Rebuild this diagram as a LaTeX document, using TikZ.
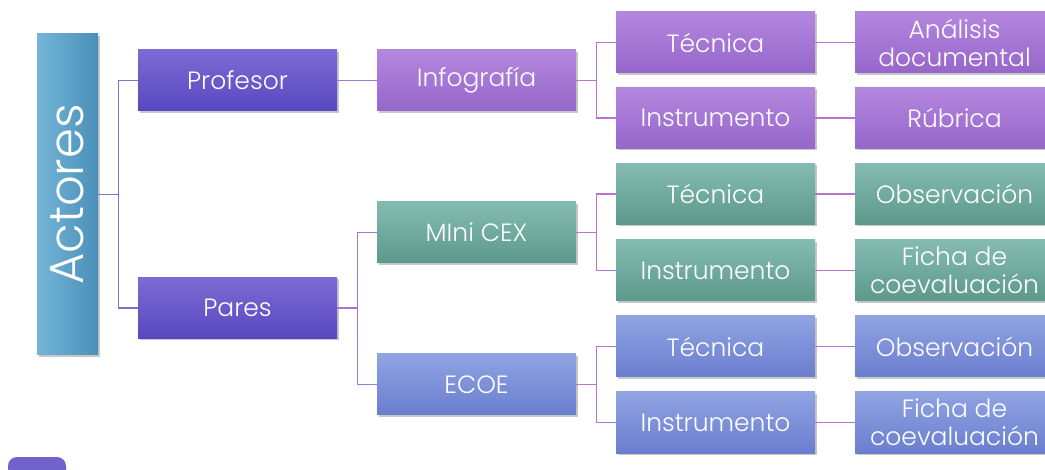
\documentclass[tikz,border=0pt]{standalone}
\usepackage{fontspec}
\setmainfont{Poppins}[UprightFont=* Light]
\usetikzlibrary{shadows}
\definecolor{profT}{HTML}{7C6BD3}
\definecolor{profB}{HTML}{5848C0}
\definecolor{lilaT}{HTML}{B487DE}
\definecolor{lilaB}{HTML}{9666CB}
\definecolor{tealT}{HTML}{84BBB1}
\definecolor{tealB}{HTML}{5D998B}
\definecolor{bluT}{HTML}{90A3E2}
\definecolor{bluB}{HTML}{6A7ECF}
\definecolor{actL}{HTML}{74B6D8}
\definecolor{actR}{HTML}{4A8FB8}
\definecolor{lnA}{HTML}{7F70D0}
\definecolor{lnB}{HTML}{A675CE}
\definecolor{lnC}{HTML}{B674CC}
\definecolor{blob}{HTML}{7262CC}
\begin{document}
\begin{tikzpicture}[x=1pt,y=-1pt,
  box/.style={rectangle, minimum width=199pt, minimum height=61pt, inner sep=0pt,
    text=white, align=center, font=\fontsize{25}{28}\selectfont,
    drop shadow={shadow xshift=1.5pt, shadow yshift=-2pt, opacity=0.22, fill=black}},
  profbox/.style={box, top color=profT, bottom color=profB},
  lilabox/.style={box, top color=lilaT, bottom color=lilaB},
  tealbox/.style={box, top color=tealT, bottom color=tealB},
  blubox/.style={box, top color=bluT, bottom color=bluB},
  lineA/.style={draw=lnA, line width=1.3pt},
  lineB/.style={draw=lnB, line width=1.3pt},
  lineC/.style={draw=lnC, line width=1.3pt}
]
\useasboundingbox (0,0) rectangle (1045,470);
\begin{scope}
\clip (0,0) rectangle (1045,470);

% root
\node[rectangle, minimum width=61pt, minimum height=321pt, inner sep=0pt,
  left color=actL, right color=actR, text=white,
  drop shadow={shadow xshift=1.5pt, shadow yshift=-2pt, opacity=0.22, fill=black}]
  (act) at (67.5,194.5) {};
\node[rotate=90, text=white, font=\fontsize{48}{50}\selectfont] (acttxt) at (act.center) {Actores};

% level 1
\node[profbox] (prof) at (237.5,80.5) {Profesor};
\node[profbox] (pares) at (237.5,308) {Pares};

% level 2
\node[lilabox] (info) at (476.5,80.5) {Infografía};
\node[tealbox] (mini) at (476.5,232.5) {MIni CEX};
\node[blubox] (ecoe) at (476.5,384.5) {ECOE};

% level 3
\node[lilabox] (t1) at (715.5,42.5) {Técnica};
\node[lilabox] (i1) at (715.5,118) {Instrumento};
\node[tealbox] (t2) at (715.5,194) {Técnica};
\node[tealbox] (i2) at (715.5,270.5) {Instrumento};
\node[blubox] (t3) at (715.5,346.5) {Técnica};
\node[blubox] (i3) at (715.5,422.5) {Instrumento};

% level 4
\node[lilabox] (a1) at (954.5,42.5) {Análisis\\documental};
\node[lilabox] (b1) at (954.5,118) {Rúbrica};
\node[tealbox] (a2) at (954.5,194) {Observación};
\node[tealbox] (b2) at (954.5,270.5) {Ficha de\\coevaluación};
\node[blubox] (a3) at (954.5,346.5) {Observación};
\node[blubox] (b3) at (954.5,422.5) {Ficha de\\coevaluación};

% connectors
\draw[lineA] (act.east) -- ++(20,0) coordinate (j0);
\draw[lineA] (j0) |- (prof.west);
\draw[lineA] (j0) |- (pares.west);

\draw[lineB] (prof.east) -- (info.west);
\draw[lineB] (pares.east) -- ++(20,0) coordinate (j1);
\draw[lineB] (j1) |- (mini.west);
\draw[lineB] (j1) |- (ecoe.west);

\foreach \p/\a/\b in {info/t1/i1, mini/t2/i2, ecoe/t3/i3}{
  \draw[lineC] (\p.east) -- ++(20,0) coordinate (jj);
  \draw[lineC] (jj) |- (\a.west);
  \draw[lineC] (jj) |- (\b.west);
}
\foreach \a/\b in {t1/a1, i1/b1, t2/a2, i2/b2, t3/a3, i3/b3}{
  \draw[lineC] (\a.east) -- (\b.west);
}

% decorative blob bottom-left
\fill[blob, rounded corners=9pt] (8,490) -- (8,457) -- (66,457) -- (66,490) -- cycle;
\end{scope}
\end{tikzpicture}
\end{document}
